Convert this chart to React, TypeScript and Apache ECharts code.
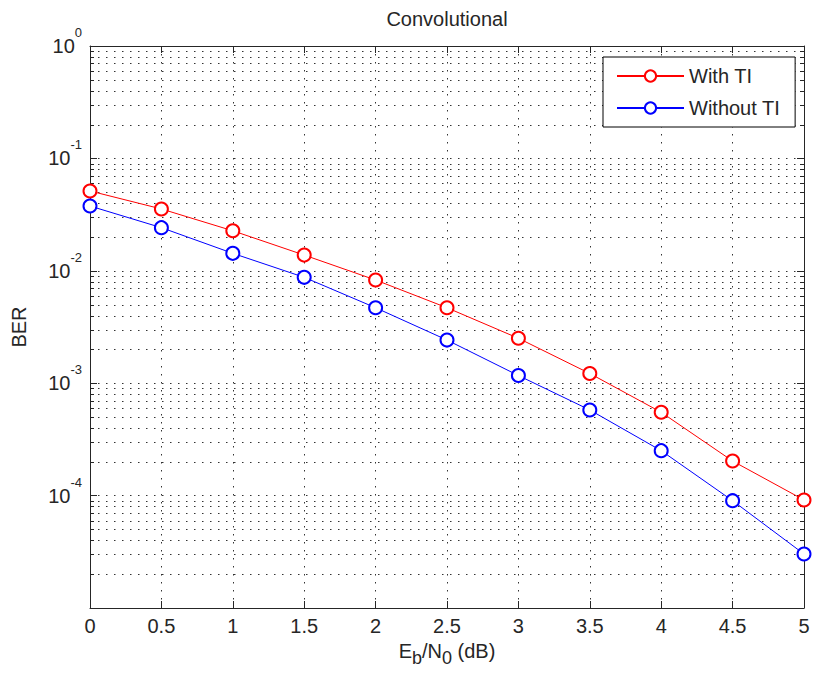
import React, { useEffect, useRef } from "react";
import * as echarts from "echarts";

const ebn0 = [0, 0.5, 1, 1.5, 2, 2.5, 3, 3.5, 4, 4.5, 5];
const withTI = [0.0513, 0.0355, 0.0227, 0.0138, 0.00828, 0.00469, 0.00251, 0.00122, 0.000551, 0.000203, 0.0000914];
const withoutTI = [0.0377, 0.0242, 0.0143, 0.00875, 0.00469, 0.00242, 0.00117, 0.000578, 0.000251, 0.0000901, 0.0000302];
const seriesNames = ["With TI", "Without TI"];
const decades = [-5, -4, -3, -2, -1];
const minorMultipliers = [2, 3, 4, 5, 6, 7, 8, 9];
const titleText = "Convolutional";
const yName = "BER";

const FONT = "Liberation Sans, Arial, sans-serif";
const TXT = "#262626";
const AX = "#262626";
const DOT: number[] = [1.5, 6.5];

export default function App() {
  const ref = useRef<HTMLDivElement>(null);
  useEffect(() => {
    if (!ref.current) return;
    const chart = echarts.init(ref.current, null, { renderer: "svg" });
    const minorVals: number[][] = [];
    decades.forEach((e) => minorMultipliers.forEach((m) => minorVals.push([0, m * Math.pow(10, e)])));

    const gridL = 90, gridR = 10, gridT = 46, gridB = 66;
    const plotCenter = gridL + (814 - gridL - gridR) / 2;

    const option: any = {
      animation: false,
      backgroundColor: "#ffffff",
      textStyle: { fontFamily: FONT },
      grid: { left: gridL, right: gridR, top: gridT, bottom: gridB },
      graphic: [
        {
          type: "text",
          x: plotCenter,
          y: 9,
          style: { text: titleText, fontSize: 20, fontFamily: FONT, fill: TXT, textAlign: "center", textVerticalAlign: "top" },
        },
      ],
      legend: {
        data: seriesNames,
        orient: "vertical",
        left: 603,
        top: 57,
        padding: [9, 15, 9, 13],
        itemGap: 12,
        itemWidth: 67,
        itemHeight: 14,
        backgroundColor: "#ffffff",
        borderColor: "#000000",
        borderWidth: 1,
        borderRadius: 0,
        textStyle: { fontSize: 20, fontFamily: FONT, color: TXT, lineHeight: 20 },
      },
      xAxis: [
        {
          type: "value",
          min: 0,
          max: 5,
          interval: 0.5,
          position: "bottom",
          axisLine: { show: true, onZero: false, lineStyle: { color: AX, width: 1 } },
          axisTick: { show: true, inside: true, length: 7, lineStyle: { color: AX } },
          axisLabel: { margin: 8, fontSize: 20, fontFamily: FONT, color: TXT, lineHeight: 20 },
          splitLine: { show: true, lineStyle: { color: "#333", type: DOT, width: 1 } },
          name: "{n|E}{sub|b}{n|/N}{sub|0}{n| (dB)}",
          nameLocation: "middle",
          nameGap: 35,
          nameTextStyle: {
            rich: {
              n: { fontSize: 20, fontFamily: FONT, color: TXT, lineHeight: 20, padding: [0, 0, 6, 0] },
              sub: { fontSize: 18, fontFamily: FONT, color: TXT, lineHeight: 18, padding: [8, 0, 0, 0] },
            },
          },
        },
        {
          type: "value",
          min: 0,
          max: 5,
          interval: 0.5,
          position: "top",
          axisLine: { show: true, onZero: false, lineStyle: { color: AX, width: 1 } },
          axisTick: { show: true, inside: true, length: 7, lineStyle: { color: AX } },
          axisLabel: { show: false },
          splitLine: { show: false },
        },
      ],
      yAxis: [
        {
          type: "log",
          logBase: 10,
          min: 1e-5,
          max: 1,
          position: "left",
          axisLine: { show: true, onZero: false, lineStyle: { color: AX, width: 1 } },
          axisTick: { show: true, inside: true, length: 7, lineStyle: { color: AX } },
          axisLabel: {
            margin: 8,
            formatter: (v: number) => {
              const e = Math.round(Math.log10(v));
              if (e <= -5) return "";
              return `{b|10}{s|${e}}`;
            },
            rich: {
              b: { fontSize: 20, fontFamily: FONT, color: TXT, lineHeight: 20, padding: [12, 0, 12, 0] },
              s: { fontSize: 13, fontFamily: FONT, color: TXT, lineHeight: 13, padding: [2, 0, 29, 0] },
            },
          },
          splitLine: { show: true, lineStyle: { color: "#333", type: DOT, width: 1 } },
          name: yName,
          nameLocation: "middle",
          nameGap: 61,
          nameTextStyle: { fontSize: 20, fontFamily: FONT, color: TXT, lineHeight: 20 },
        },
        {
          type: "log",
          logBase: 10,
          min: 1e-5,
          max: 1,
          position: "right",
          axisLine: { show: true, onZero: false, lineStyle: { color: AX, width: 1 } },
          axisTick: { show: true, inside: true, length: 7, lineStyle: { color: AX } },
          axisLabel: { show: false },
          splitLine: { show: false },
        },
      ],
      series: [
        {
          type: "custom",
          name: "minor",
          silent: true,
          xAxisIndex: 0,
          yAxisIndex: 0,
          z: 1,
          clip: false,
          data: minorVals,
          encode: { x: 0, y: 1 },
          renderItem: (params: any, api: any) => {
            const v = api.value(1);
            const p = api.coord([0, v]);
            const cs = params.coordSys;
            const y = Math.round(p[1]) + 0.5;
            return {
              type: "group",
              children: [
                {
                  type: "line",
                  shape: { x1: cs.x, y1: y, x2: cs.x + cs.width, y2: y },
                  style: { stroke: "#333", lineWidth: 1, lineDash: DOT },
                },
                {
                  type: "line",
                  shape: { x1: cs.x, y1: y, x2: cs.x + 4, y2: y },
                  style: { stroke: AX, lineWidth: 1 },
                },
                {
                  type: "line",
                  shape: { x1: cs.x + cs.width - 4, y1: y, x2: cs.x + cs.width, y2: y },
                  style: { stroke: AX, lineWidth: 1 },
                },
              ],
            };
          },
        },
        {
          name: seriesNames[0],
          type: "line",
          xAxisIndex: 0,
          yAxisIndex: 0,
          data: ebn0.map((x, i) => [x, withTI[i]]),
          symbol: "emptyCircle",
          symbolSize: 13,
          clip: false,
          z: 5,
          lineStyle: { color: "#ff0000", width: 1 },
          itemStyle: { color: "#ff0000", borderColor: "#ff0000", borderWidth: 1 },
        },
        {
          name: seriesNames[1],
          type: "line",
          xAxisIndex: 0,
          yAxisIndex: 0,
          data: ebn0.map((x, i) => [x, withoutTI[i]]),
          symbol: "emptyCircle",
          symbolSize: 13,
          clip: false,
          z: 5,
          lineStyle: { color: "#0000ff", width: 1 },
          itemStyle: { color: "#0000ff", borderColor: "#0000ff", borderWidth: 1 },
        },
      ],
    };
    chart.setOption(option);
    return () => chart.dispose();
  }, []);
  return <div ref={ref} style={{ position: "fixed", left: 0, top: 0, width: 814, height: 674 }} />;
}
